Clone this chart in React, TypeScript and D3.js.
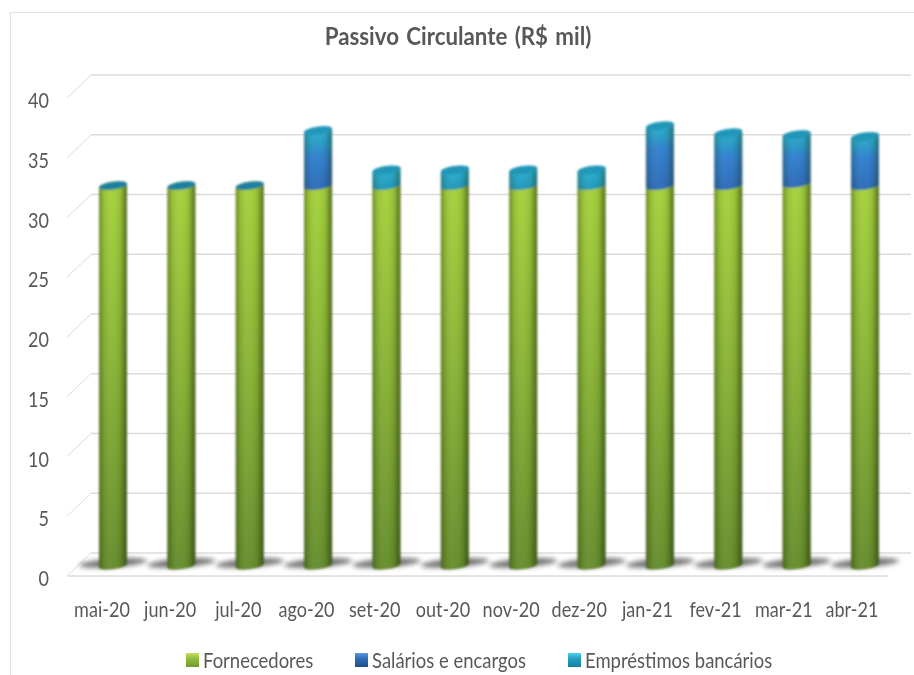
import React from "react";
import * as d3 from "d3";

const months = ["mai-20","jun-20","jul-20","ago-20","set-20","out-20","nov-20","dez-20","jan-21","fev-21","mar-21","abr-21"];
const fornecedores = [32,32,32,32,32,32,32,32,32,32,32.2,32];
const salarios = [0,0,0,3,0,0,0,0,3.6,3,2.8,2.9];
const emprestimos = [0,0,0,1.6,1.3,1.3,1.3,1.3,1.4,1.4,1.25,1.2];
const ticks = [0,5,10,15,20,25,30,35,40];
const seriesNames = ["Fornecedores","Salários e encargos","Empréstimos bancários"];
const legendSwatchX = [186, 355, 568];
const legendTextX = [203, 372, 585];
const legendGradients = ["lg", "lb", "lt"];
const font = "Lato, 'Open Sans', sans-serif";

export default function App() {
  const yBack = d3.scaleLinear().domain([0, 40]).range([553, 75]);
  const yBar = d3.scaleLinear().domain([0, 40]).range([568, 90]);
  const x = d3.scalePoint<string>().domain(months).range([113, 865]);
  const xLabel = d3.scalePoint<string>().domain(months).range([102, 852]);
  const w = 28;
  const rx = w / 2;
  const ry = 4;
  const tilt = 0.14;
  const base = yBar(0) - 3;

  const body = (cx: number, y0: number, y1: number) =>
    `M${cx - rx},${y0 + tilt * rx}` +
    `L${cx - rx},${y1 + tilt * rx}` +
    `A${rx},${ry} -8 0 1 ${cx + rx},${y1 - tilt * rx}` +
    `L${cx + rx},${y0 - tilt * rx}` +
    `A${rx},${ry} -8 0 1 ${cx - rx},${y0 + tilt * rx}Z`;

  return (
    <svg width={914} height={675} style={{ position: "absolute", left: 0, top: 0, background: "#fff" }}>
      <defs>
        <linearGradient id="gv" x1="0" y1="0" x2="0" y2="1">
          <stop offset="0" stopColor="#a6d23a" />
          <stop offset="0.45" stopColor="#8ab534" />
          <stop offset="1" stopColor="#648c2b" />
        </linearGradient>
        <linearGradient id="shade" x1="0" y1="0" x2="1" y2="0">
          <stop offset="0" stopColor="#2f3f14" stopOpacity="0.5" />
          <stop offset="0.14" stopColor="#2f3f14" stopOpacity="0.16" />
          <stop offset="0.45" stopColor="#fff" stopOpacity="0.03" />
          <stop offset="0.75" stopColor="#2f3f14" stopOpacity="0.1" />
          <stop offset="1" stopColor="#1f2c10" stopOpacity="0.62" />
        </linearGradient>
        <linearGradient id="lg" x1="0" y1="0" x2="0" y2="1">
          <stop offset="0" stopColor="#c4e060" /><stop offset="0.4" stopColor="#93bd3c" /><stop offset="1" stopColor="#6f9a2c" />
        </linearGradient>
        <linearGradient id="lb" x1="0" y1="0" x2="0" y2="1">
          <stop offset="0" stopColor="#5a9ae0" /><stop offset="0.4" stopColor="#2f6db5" /><stop offset="1" stopColor="#1f4f8e" />
        </linearGradient>
        <linearGradient id="lt" x1="0" y1="0" x2="0" y2="1">
          <stop offset="0" stopColor="#4fd0ea" /><stop offset="0.4" stopColor="#25a0c0" /><stop offset="1" stopColor="#17809f" />
        </linearGradient>
        <filter id="soft" x="-30%" y="-30%" width="160%" height="160%"><feGaussianBlur stdDeviation="0.8" /></filter>
        <filter id="blurS" x="-30%" y="-150%" width="160%" height="400%"><feGaussianBlur stdDeviation="2.8" /></filter>
        <filter id="txt"><feGaussianBlur stdDeviation="0.35" /></filter>
      </defs>

      <path d="M10.5,675V12.5H914" fill="none" stroke="#e2e2e2" strokeWidth={1.2} />

      {ticks.map((t) => (
        <g key={t} stroke="#dcdcdc" fill="none" strokeWidth={1.4}>
          <line x1={91} x2={911} y1={yBack(t)} y2={yBack(t)} />
          <line x1={67} x2={91} y1={yBack(t) + 23} y2={yBack(t)} strokeWidth={1} />
        </g>
      ))}
      <line x1={67} x2={888} y1={576} y2={576} stroke="#dcdcdc" strokeWidth={1.4} />

      {months.map((m) => (
        <ellipse key={m} cx={x(m)!} cy={563} rx={34} ry={4} fill="#4a4a4a" opacity={0.8}
          transform={`rotate(-4 ${x(m)!} 563)`} filter="url(#blurS)" />
      ))}

      {months.map((m, i) => {
        const cx = x(m)!;
        const f = fornecedores[i], s = salarios[i], e = emprestimos[i];
        const total = f + s + e;
        const yf = yBar(f), ys = yBar(f + s), yt = yBar(total);
        const gid = `cap${i}`;
        const span = yf - yt + 10;
        return (
          <g key={m} filter="url(#soft)">
            <defs>
              <linearGradient id={gid} gradientUnits="userSpaceOnUse" x1={0} x2={0} y1={yt - 6} y2={yf + 4}>
                {s > 0 ? (
                  <>
                    <stop offset="0" stopColor="#2ab6d6" />
                    <stop offset={(ys - yt) / span} stopColor="#289cc8" />
                    <stop offset={(ys - yt + 13) / span} stopColor="#3080d0" />
                    <stop offset="1" stopColor="#2c6ab8" />
                  </>
                ) : (
                  <>
                    <stop offset="0" stopColor="#2ab8d8" />
                    <stop offset="1" stopColor="#2196ba" />
                  </>
                )}
              </linearGradient>
            </defs>
            <path d={body(cx, base, yf)} fill="url(#gv)" />
            <path d={body(cx, base, yf)} fill="url(#shade)" />
            {e > 0 && (
              <>
                <path d={body(cx, yf, yt)} fill={`url(#${gid})`} />
                <path d={body(cx, yf, yt)} fill="url(#shade)" opacity={0.7} />
              </>
            )}
            <ellipse cx={cx} cy={yt} rx={rx} ry={ry} transform={`rotate(-8 ${cx} ${yt})`}
              fill={e > 0 ? "#2496b8" : "#1c80a2"} />
          </g>
        );
      })}

      <g filter="url(#txt)" fontFamily={font} fill="#595959">
        {ticks.map((t) => (
          <text key={t} transform={`translate(49,${yBack(t) + 33}) scale(0.82,1)`} textAnchor="end" fontSize={22}>{t}</text>
        ))}
        {months.map((m) => (
          <text key={m} transform={`translate(${xLabel(m)!},617) scale(0.86,1)`} textAnchor="middle" fontSize={21}>{m}</text>
        ))}
        <text transform="translate(458,45) scale(0.93,1)" textAnchor="middle" fontWeight={700} fontSize={24} wordSpacing={2}>Passivo Circulante (R$ mil)</text>
        {seriesNames.map((name, i) => (
          <g key={name}>
            <rect x={legendSwatchX[i]} y={653} width={13} height={14} fill={`url(#${legendGradients[i]})`} />
            <text transform={`translate(${legendTextX[i]},668) scale(0.88,1)`} fontSize={21}>{name}</text>
          </g>
        ))}
      </g>
    </svg>
  );
}
